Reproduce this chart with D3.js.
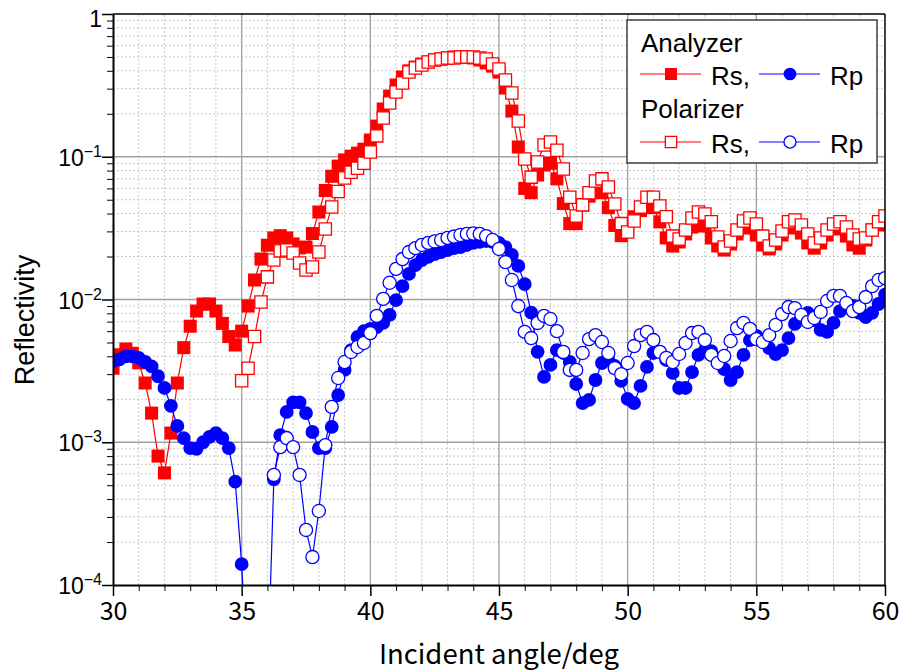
<!DOCTYPE html>
<html>
<head>
<meta charset="utf-8">
<script src="https://cdn.jsdelivr.net/npm/d3@7"></script>
<style>
  body { margin: 0; background: #fff; }
  svg { display: block; font-family: "Liberation Sans", Arial, sans-serif; }
</style>
</head>
<body>
<div id="chart"></div>
<script>
// Incident angle, one row per degree
const angle = [
  30, 30.25, 30.5, 30.75, 31, 31.25, 31.5, 31.75, 32, 32.25, 32.5, 32.75,
  33, 33.25, 33.5, 33.75, 34, 34.25, 34.5, 34.75, 35, 35.25, 35.5, 35.75,
  36, 36.25, 36.5, 36.75, 37, 37.25, 37.5, 37.75, 38, 38.25, 38.5, 38.75,
  39, 39.25, 39.5, 39.75, 40, 40.25, 40.5, 40.75, 41, 41.25, 41.5, 41.75,
  42, 42.25, 42.5, 42.75, 43, 43.25, 43.5, 43.75, 44, 44.25, 44.5, 44.75,
  45, 45.25, 45.5, 45.75, 46, 46.25, 46.5, 46.75, 47, 47.25, 47.5, 47.75,
  48, 48.25, 48.5, 48.75, 49, 49.25, 49.5, 49.75, 50, 50.25, 50.5, 50.75,
  51, 51.25, 51.5, 51.75, 52, 52.25, 52.5, 52.75, 53, 53.25, 53.5, 53.75,
  54, 54.25, 54.5, 54.75, 55, 55.25, 55.5, 55.75, 56, 56.25, 56.5, 56.75,
  57, 57.25, 57.5, 57.75, 58, 58.25, 58.5, 58.75, 59, 59.25, 59.5, 59.75,
  60
];

// Analyzer, Rs (filled squares)
const analyzerRs = [
  3.3e-3, 4.1e-3, 4.5e-3, 4.2e-3,
  3.6e-3, 2.6e-3, 1.6e-3, 8.0e-4,
  6.1e-4, 1.16e-3, 2.6e-3, 4.6e-3,
  6.5e-3, 8.3e-3, 9.3e-3, 9.3e-3,
  8.3e-3, 6.8e-3, 5.5e-3, 4.8e-3,
  6.0e-3, 9.0e-3, 0.0137, 0.0192,
  0.024, 0.027, 0.028, 0.027,
  0.0245, 0.023, 0.0233, 0.029,
  0.041, 0.058, 0.073, 0.086,
  0.095, 0.101, 0.106, 0.113,
  0.131, 0.164, 0.216, 0.266,
  0.318, 0.362, 0.40, 0.425,
  0.446, 0.461, 0.476, 0.484,
  0.492, 0.50, 0.50, 0.50,
  0.492, 0.476, 0.454, 0.432,
  0.392, 0.303, 0.209, 0.117,
  0.060, 0.056, 0.0745, 0.0875,
  0.090, 0.070, 0.047, 0.034,
  0.034, 0.046, 0.053, 0.057,
  0.056, 0.044, 0.033, 0.028,
  0.032, 0.038, 0.042, 0.046,
  0.044, 0.035, 0.027, 0.0237,
  0.0253, 0.0288, 0.0322, 0.0338,
  0.0327, 0.027, 0.0237, 0.0222,
  0.0245, 0.0288, 0.0317, 0.0322,
  0.0283, 0.0241, 0.0226, 0.0245,
  0.0283, 0.0317, 0.0322, 0.0292,
  0.0249, 0.0229, 0.0249, 0.0283,
  0.0312, 0.0317, 0.0278, 0.0241,
  0.0229, 0.0261, 0.0307, 0.0333,
  0.035
];

// Analyzer, Rp (filled circles)
const analyzerRp = [
  3.7e-3, 3.8e-3, 4.0e-3, 4.0e-3,
  3.9e-3, 3.65e-3, 3.4e-3, 2.9e-3,
  2.4e-3, 1.8e-3, 1.3e-3, 1.07e-3,
  9.1e-4, 9.0e-4, 1.0e-3, 1.09e-3,
  1.16e-3, 1.07e-3, 9.1e-4, 5.3e-4,
  1.4e-4, 2e-5, 1e-5, 1e-5,
  2e-5, 5.5e-4, 1.12e-3, 1.63e-3,
  1.9e-3, 1.9e-3, 1.6e-3, 1.18e-3,
  9.1e-4, 9.1e-4, 1.28e-3, 2.14e-3,
  3.21e-3, 4.42e-3, 5.46e-3, 6.0e-3,
  6.22e-3, 6.4e-3, 6.85e-3, 7.8e-3,
  9.9e-3, 0.0124, 0.0151, 0.0174,
  0.0189, 0.0199, 0.0208, 0.0215,
  0.0222, 0.0229, 0.0233, 0.0241,
  0.0249, 0.0253, 0.0257, 0.0253,
  0.0249, 0.0233, 0.0205, 0.0172,
  0.0128, 8.1e-3, 4.3e-3, 2.87e-3,
  3.48e-3, 4.42e-3, 4.22e-3, 3.65e-3,
  2.56e-3, 1.88e-3, 1.98e-3, 2.73e-3,
  3.59e-3, 3.77e-3, 3.42e-3, 2.69e-3,
  2.01e-3, 1.88e-3, 2.48e-3, 3.37e-3,
  4.22e-3, 4.29e-3, 3.77e-3, 3.06e-3,
  2.4e-3, 2.4e-3, 3.1e-3, 4.09e-3,
  4.42e-3, 4.35e-3, 3.77e-3, 3.26e-3,
  2.73e-3, 3.1e-3, 4.09e-3, 5.2e-3,
  5.55e-3, 5.2e-3, 4.57e-3, 4.15e-3,
  4.42e-3, 5.37e-3, 6.74e-3, 7.67e-3,
  8.06e-3, 7.18e-3, 6.12e-3, 5.93e-3,
  6.85e-3, 8.3e-3, 9.15e-3, 9.0e-3,
  8.06e-3, 7.54e-3, 8.06e-3, 9.3e-3,
  0.0108
];

// Polarizer, Rs (open squares), measured from 35 deg
const polarizerRs = [
  null, null, null, null,
  null, null, null, null,
  null, null, null, null,
  null, null, null, null,
  null, null, null, null,
  2.7e-3, 3.3e-3, 5.5e-3, 9.6e-3,
  0.0144, 0.0189, 0.0219, 0.0222,
  0.0212, 0.018, 0.0161, 0.0169,
  0.0215, 0.0312, 0.0445, 0.057,
  0.071, 0.078, 0.083, 0.090,
  0.108, 0.140, 0.187, 0.238,
  0.284, 0.329, 0.392, 0.418,
  0.439, 0.461, 0.476, 0.484,
  0.492, 0.492, 0.50, 0.50,
  0.50, 0.492, 0.484, 0.446,
  0.412, 0.345, 0.28, 0.178,
  0.0964, 0.072, 0.092, 0.121,
  0.127, 0.111, 0.082, 0.052,
  0.0385, 0.046, 0.056, 0.0676,
  0.070, 0.0614, 0.0467, 0.034,
  0.0297, 0.0355, 0.0445, 0.052,
  0.052, 0.0452, 0.038, 0.0278,
  0.0265, 0.0307, 0.0372, 0.041,
  0.0397, 0.035, 0.0274, 0.0233,
  0.0257, 0.0307, 0.0355, 0.0372,
  0.0338, 0.0278, 0.0237, 0.0261,
  0.0302, 0.035, 0.036, 0.0333,
  0.0288, 0.0249, 0.027, 0.0307,
  0.0338, 0.035, 0.0322, 0.0283,
  0.0265, 0.027, 0.0307, 0.035,
  0.0385
];

// Polarizer, Rp (open circles), measured from 36.25 deg
const polarizerRp = [
  null, null, null, null,
  null, null, null, null,
  null, null, null, null,
  null, null, null, null,
  null, null, null, null,
  null, null, null, null,
  null, 5.9e-4, 9.25e-4, 1.07e-3,
  9.25e-4, 5.9e-4, 2.43e-4, 1.57e-4,
  3.3e-4, 9.55e-4, 1.77e-3, 2.82e-3,
  3.65e-3, 4.29e-3, 4.65e-3, 4.96e-3,
  5.82e-3, 7.67e-3, 0.0101, 0.0131,
  0.0164, 0.0192, 0.0215, 0.0229,
  0.0241, 0.0249, 0.0255, 0.0261,
  0.027, 0.0276, 0.0283, 0.0288,
  0.029, 0.0288, 0.0278, 0.0261,
  0.0226, 0.0183, 0.0137, 9.0e-3,
  5.93e-3, 5.37e-3, 6.85e-3, 7.67e-3,
  7.3e-3, 6.0e-3, 4.29e-3, 3.21e-3,
  3.21e-3, 4.22e-3, 5.28e-3, 5.63e-3,
  5.04e-3, 4.22e-3, 3.31e-3, 3.0e-3,
  3.59e-3, 4.72e-3, 5.63e-3, 5.93e-3,
  5.2e-3, 4.29e-3, 3.9e-3, 3.65e-3,
  4.15e-3, 4.96e-3, 5.82e-3, 5.93e-3,
  5.2e-3, 4.09e-3, 3.59e-3, 4.02e-3,
  5.12e-3, 6.31e-3, 6.85e-3, 6.22e-3,
  5.28e-3, 5.04e-3, 5.63e-3, 6.63e-3,
  7.91e-3, 8.85e-3, 8.7e-3, 7.8e-3,
  6.96e-3, 7.42e-3, 8.18e-3, 9.76e-3,
  0.0106, 0.0106, 9.45e-3, 8.3e-3,
  8.85e-3, 0.0104, 0.0124, 0.0137,
  0.0141
];

const xTicks = [30, 35, 40, 45, 50, 55, 60];
const yTicks = [1e-4, 1e-3, 1e-2, 1e-1, 1];
const yTickExp = ["−4", "−3", "−2", "−1", ""];

const width = 899;
const height = 672;
const margin = { top: 14, right: 14, bottom: 87, left: 113 };

const x = d3.scaleLinear().domain([30, 60]).range([margin.left, width - margin.right]);
const y = d3.scaleLog().domain([1e-4, 1]).range([height - margin.bottom, margin.top]);

const series = [
    { values: analyzerRs, color: "#ff0000", shape: d3.symbolSquare, size: 170, filled: true },
    { values: analyzerRp, color: "#0000ff", shape: d3.symbolCircle, size: 150, filled: true },
    { values: polarizerRs, color: "#ff0000", shape: d3.symbolSquare, size: 150, filled: false },
    { values: polarizerRp, color: "#0000ff", shape: d3.symbolCircle, size: 135, filled: false }
];

const svg = d3.select("#chart")
    .append("svg")
    .attr("width", width)
    .attr("height", height);

svg.append("defs").append("clipPath")
    .attr("id", "plotClip")
    .append("rect")
    .attr("x", margin.left)
    .attr("y", margin.top)
    .attr("width", width - margin.left - margin.right)
    .attr("height", height - margin.top - margin.bottom);

// minor grid (dotted)
const minorX = d3.range(31, 60).filter(v => v % 5 !== 0);
const minorY = [];
[-4, -3, -2, -1].forEach(e => {
    for (let m = 2; m <= 9; m++) minorY.push(m * Math.pow(10, e));
});

const grid = svg.append("g");
grid.selectAll(".gx")
    .data(minorX)
    .enter()
    .append("line")
    .attr("x1", d => x(d)).attr("x2", d => x(d))
    .attr("y1", y(1e-4)).attr("y2", y(1))
    .attr("stroke", "#c8c8c8")
    .attr("stroke-dasharray", "2,2");
grid.selectAll(".gy")
    .data(minorY)
    .enter()
    .append("line")
    .attr("x1", x(30)).attr("x2", x(60))
    .attr("y1", d => y(d)).attr("y2", d => y(d))
    .attr("stroke", "#c8c8c8")
    .attr("stroke-dasharray", "2,2");

// major grid (solid)
grid.selectAll(".mx")
    .data(xTicks.slice(1, -1))
    .enter()
    .append("line")
    .attr("x1", d => x(d)).attr("x2", d => x(d))
    .attr("y1", y(1e-4)).attr("y2", y(1))
    .attr("stroke", "#a0a0a0")
    .attr("stroke-width", 1.3);
grid.selectAll(".my")
    .data(yTicks.slice(1, -1))
    .enter()
    .append("line")
    .attr("x1", x(30)).attr("x2", x(60))
    .attr("y1", d => y(d)).attr("y2", d => y(d))
    .attr("stroke", "#a0a0a0")
    .attr("stroke-width", 1.3);

// data: line first, then symbols, one series after the other
const plot = svg.append("g").attr("clip-path", "url(#plotClip)");

series.forEach(s => {
    const pts = angle.map((a, i) => [a, s.values[i]]);

    const line = d3.line()
        .defined(d => d[1] != null)
        .x(d => x(d[0]))
        .y(d => y(d[1]));

    plot.append("path")
        .datum(pts)
        .attr("d", line)
        .attr("fill", "none")
        .attr("stroke", s.color)
        .attr("stroke-width", 1.2);

    plot.selectAll(null)
        .data(pts.filter(d => d[1] != null && d[1] >= 1e-4))
        .enter()
        .append("path")
        .attr("transform", d => `translate(${x(d[0])},${y(d[1])})`)
        .attr("d", d3.symbol(s.shape, s.size))
        .attr("fill", s.filled ? s.color : "#fff")
        .attr("stroke", s.color)
        .attr("stroke-width", s.filled ? 0 : 1.3);
});

// frame on top and right
svg.append("line")
    .attr("x1", x(30)).attr("x2", x(60))
    .attr("y1", y(1)).attr("y2", y(1))
    .attr("stroke", "#000").attr("stroke-width", 1.5);
svg.append("line")
    .attr("x1", x(60)).attr("x2", x(60))
    .attr("y1", y(1)).attr("y2", y(1e-4))
    .attr("stroke", "#000").attr("stroke-width", 1.5);

// bottom axis
const xAxis = svg.append("g")
    .attr("transform", `translate(0,${y(1e-4)})`)
    .call(d3.axisBottom(x).tickValues(xTicks).tickSize(11).tickSizeOuter(0).tickPadding(6));
svg.append("g")
    .attr("transform", `translate(0,${y(1e-4)})`)
    .call(d3.axisBottom(x).tickValues(minorX).tickSize(6).tickSizeOuter(0).tickFormat(""))
    .select(".domain").remove();
xAxis.select(".domain").attr("stroke-width", 2);
xAxis.selectAll(".tick line").attr("stroke-width", 1.5);
xAxis.selectAll(".tick text")
    .attr("font-family", "'Noto Sans CJK JP', 'Liberation Sans', sans-serif")
    .attr("font-size", "25px")
    .attr("fill", "#000");

// left axis
const yAxis = svg.append("g")
    .attr("transform", `translate(${x(30)},0)`)
    .call(d3.axisLeft(y).tickValues(yTicks).tickSize(11).tickSizeOuter(0).tickFormat(""));
svg.append("g")
    .attr("transform", `translate(${x(30)},0)`)
    .call(d3.axisLeft(y).tickValues(minorY).tickSize(6).tickSizeOuter(0).tickFormat(""))
    .select(".domain").remove();
yAxis.select(".domain").attr("stroke-width", 2);
yAxis.selectAll(".tick line").attr("stroke-width", 1.5);

// y tick labels with exponents
yTicks.forEach((v, i) => {
    const t = svg.append("text")
        .attr("x", 102)
        .attr("text-anchor", "end")
        .attr("font-size", "23px");
    if (yTickExp[i] === "") {
        t.attr("y", y(v) + 13).text("1");
    } else {
        t.attr("y", y(v) + 9);
        t.append("tspan").text("10");
        t.append("tspan")
            .attr("dy", -9)
            .attr("font-size", "16px")
            .text(yTickExp[i]);
    }
});

// axis titles
svg.append("text")
    .attr("x", (x(30) + x(60)) / 2)
    .attr("y", 664)
    .attr("text-anchor", "middle")
    .attr("font-family", "'Noto Sans CJK JP', 'Liberation Sans', sans-serif")
    .attr("font-size", "27.5px")
    .text("Incident angle/deg");

svg.append("text")
    .attr("transform", "translate(34,320) rotate(-90)")
    .attr("text-anchor", "middle")
    .attr("font-size", "27px")
    .text("Reflectivity");

// legend
const legend = svg.append("g").attr("transform", "translate(627,20)");
legend.append("rect")
    .attr("width", 250)
    .attr("height", 143)
    .attr("fill", "#fff")
    .attr("stroke", "#404040")
    .attr("stroke-width", 1.5);

const legendGroups = [
    { title: "Analyzer", ty: 32, ly: 54, items: [series[0], series[1]] },
    { title: "Polarizer", ty: 98, ly: 122, items: [series[2], series[3]] }
];

legendGroups.forEach(g => {
    legend.append("text")
        .attr("x", 14)
        .attr("y", g.ty)
        .attr("font-size", "26px")
        .text(g.title);

    g.items.forEach((s, j) => {
        const x0 = j === 0 ? 13 : 132;
        legend.append("line")
            .attr("x1", x0).attr("x2", x0 + 61)
            .attr("y1", g.ly).attr("y2", g.ly)
            .attr("stroke", s.color)
            .attr("stroke-width", 1.2);
        legend.append("path")
            .attr("transform", `translate(${x0 + 31},${g.ly})`)
            .attr("d", d3.symbol(s.shape, s.size * 0.85))
            .attr("fill", s.filled ? s.color : "#fff")
            .attr("stroke", s.color)
            .attr("stroke-width", s.filled ? 0 : 1.3);
        legend.append("text")
            .attr("x", j === 0 ? 84 : 203)
            .attr("y", g.ly + 10.5)
            .attr("font-size", "26px")
            .text(j === 0 ? "Rs," : "Rp");
    });
});
</script>
</body>
</html>
